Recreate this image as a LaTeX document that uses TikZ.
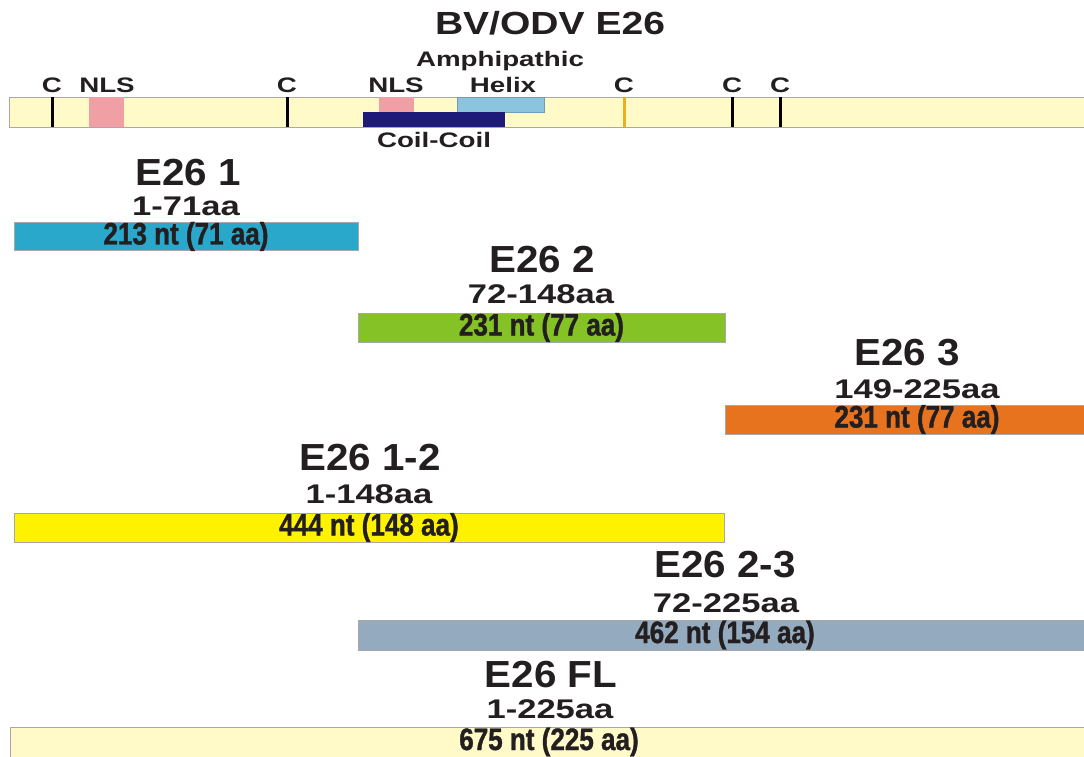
\documentclass[tikz,border=0pt]{standalone}
\usepackage{fontspec}
\setmainfont{Liberation Sans}
\newfontfamily\fTitle{Liberation Sans}[FakeStretch=1.22]
\newfontfamily\fLab{Liberation Sans}[FakeStretch=1.07]
\newfontfamily\fRange{Liberation Sans}[FakeStretch=1.28]
\newfontfamily\fSmall{Liberation Sans}[FakeStretch=1.32]
\newfontfamily\fBar{Liberation Sans}[FakeStretch=0.84,FakeBold=1.2]
\definecolor{ink}{HTML}{231F20}
\definecolor{pale}{HTML}{FFFAC8}
\definecolor{nlspink}{HTML}{F0A0A5}
\definecolor{helixblue}{HTML}{8CC4E0}
\definecolor{coilnavy}{HTML}{1E1A78}
\definecolor{ctickorange}{HTML}{E8B020}
\definecolor{cA}{HTML}{2AA8CC}
\definecolor{cB}{HTML}{84C225}
\definecolor{cC}{HTML}{E8731E}
\definecolor{cD}{HTML}{FFF200}
\definecolor{cE}{HTML}{93AABF}
\definecolor{edge}{HTML}{A8A8A8}
\tikzset{
  bar/.style={draw=edge, line width=0.8pt, inner sep=0pt, outer sep=0pt, anchor=north west,
    font=\fBar\bfseries\fontsize{31}{31}\selectfont, text=ink},
  lab/.style={anchor=base, inner sep=0pt, text=ink, font=\fLab\bfseries\fontsize{37.7}{38}\selectfont},
  rng/.style={anchor=base, inner sep=0pt, text=ink, font=\fRange\bfseries\fontsize{27}{27}\selectfont},
  small/.style={anchor=base, inner sep=0pt, text=ink, font=\fSmall\bfseries\fontsize{21}{21}\selectfont},
  ttl/.style={anchor=base, inner sep=0pt, text=ink, font=\fTitle\bfseries\fontsize{32}{32}\selectfont},
  feat/.style={draw=none, inner sep=0pt, outer sep=0pt, anchor=north west},
  ctick/.style={fill=black, draw=none, inner sep=0pt, outer sep=0pt, minimum width=3pt, minimum height=30pt, anchor=north},
}
\begin{document}
\begin{tikzpicture}[x=1pt,y=-1pt]
\useasboundingbox (0,0) rectangle (1084,757);
% title
\node[ttl] (title) at (550,35) {BV/ODV E26};
% protein map
\node[feat, draw=edge, line width=0.8pt, fill=pale, minimum width=1079pt, minimum height=30pt] (map) at (9,97) {};
\node[feat, fill=nlspink, minimum width=35pt, minimum height=30pt] (nlsA) at (89,97) {};
\node[feat, fill=nlspink, minimum width=35pt, minimum height=15pt] (nlsB) at (379,97) {};
\node[feat, fill=helixblue, draw=helixblue!80!black, line width=0.4pt, minimum width=87pt, minimum height=15pt] (helix) at (457,97) {};
\node[feat, fill=coilnavy, minimum width=142pt, minimum height=15pt] (coil) at (363,112) {};
\node[ctick] (c1) at (52,97) {};
\node[ctick] (c2) at (287,97) {};
\node[ctick, fill=ctickorange, minimum width=3pt] (c3) at (624,97) {};
\node[ctick] (c4) at (732,97) {};
\node[ctick] (c5) at (780,97) {};
% feature labels
\node[small] (lc1) at (52,93) {C};
\node[small] (lc2) at (287,93) {C};
\node[small] (lc3) at (624,93) {C};
\node[small] (lc4) at (732,93) {C};
\node[small] (lc5) at (780,93) {C};
\node[small] (lnlsA) at (107,93) {NLS};
\node[small] (lnlsB) at (396,93) {NLS};
\node[small] (lamph) at (500,67) {Amphipathic};
\node[small] (lhelix) at (503,93) {Helix};
\node[small] (lcoil) at (434,148) {Coil-Coil};
% constructs
\node[lab] (n1) at (188,185) {E26 1};
\node[rng] (r1) at (186,215) {1-71aa};
\node[bar, fill=cA, minimum width=344pt, minimum height=28pt] (b1) at (14,222) {213 nt (71 aa)};

\node[lab] (n2) at (542,272) {E26 2};
\node[rng] (r2) at (541,303) {72-148aa};
\node[bar, fill=cB, minimum width=367pt, minimum height=29pt] (b2) at (358,313) {231 nt (77 aa)};

\node[lab] (n3) at (907,365) {E26 3};
\node[rng] (r3) at (917,398) {149-225aa};
\node[bar, fill=cC, minimum width=384pt, minimum height=29pt] (b3) at (725,405) {231 nt (77 aa)};

\node[lab] (n12) at (370,470) {E26 1-2};
\node[rng] (r12) at (369,503) {1-148aa};
\node[bar, fill=cD, minimum width=710pt, minimum height=29pt] (b12) at (14,513) {444 nt (148 aa)};

\node[lab] (n23) at (725,577) {E26 2-3};
\node[rng] (r23) at (726,612) {72-225aa};
\node[bar, fill=cE, minimum width=734pt, minimum height=30pt] (b23) at (358,620) {462 nt (154 aa)};

\node[lab] (nfl) at (551,687) {E26 FL};
\node[rng] (rfl) at (550,718) {1-225aa};
\node[bar, fill=pale, minimum width=1078pt, minimum height=30pt] (bfl) at (10,727) {675 nt (225 aa)};
\end{tikzpicture}
\end{document}
